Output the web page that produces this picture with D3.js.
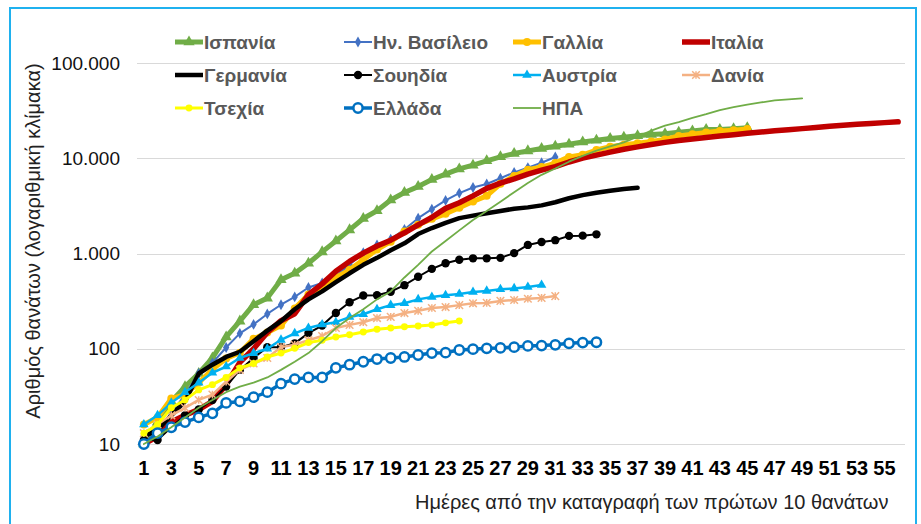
<!DOCTYPE html>
<meta charset="utf-8">
<style>

body {
  margin: 0;
  background: #fff;
}

svg {
  font-family: Arial, "Liberation Sans", sans-serif;
}

.grid line {
  stroke: #d9d9d9;
  shape-rendering: crispEdges;
}

.axis path {
  display: none;
}

.axis--x text {
  font-size: 20px;
  font-weight: bold;
  fill: #000;
}

.axis--y text {
  font-size: 19px;
  fill: #111;
}

.legend text {
  font-size: 19px;
  font-weight: bold;
  fill: #595959;
}

.title {
  font-size: 20px;
  fill: #222;
}

.series path.line {
  fill: none;
  stroke-linejoin: round;
  stroke-linecap: round;
}

</style>
<svg width="921" height="524"></svg>
<script src="https://cdn.jsdelivr.net/npm/d3@7"></script>
<script>

// Days since the first 10 deaths (categories on the x axis) and the labels shown.
var days = [1, 2, 3, 4, 5, 6, 7, 8, 9, 10, 11, 12, 13, 14, 15, 16, 17, 18, 19, 20,
  21, 22, 23, 24, 25, 26, 27, 28, 29, 30, 31, 32, 33, 34, 35, 36, 37, 38, 39, 40,
  41, 42, 43, 44, 45, 46, 47, 48, 49, 50, 51, 52, 53, 54, 55, 56];
var xTickLabels = [1, 3, 5, 7, 9, 11, 13, 15, 17, 19, 21, 23, 25, 27, 29, 31, 33, 35,
  37, 39, 41, 43, 45, 47, 49, 51, 53, 55];

var yTicks = [10, 100, 1000, 10000, 100000];
var yTickLabels = ["10", "100", "1.000", "10.000", "100.000"];

// Cumulative deaths (day 1 first).
var spain = [10, 17, 28, 40, 55, 80, 133, 195, 290, 340, 530, 620, 790, 1040, 1350,
  1770, 2330, 2810, 3650, 4370, 5040, 5980, 6800, 7720, 8460, 9390, 10350, 11200,
  11950, 12640, 13340, 14050, 14790, 15450, 16080, 16610, 17210, 17760, 18060,
  18710, 19320, 20000, 20040, 20450, 20850];
var uk = [10, 14, 21, 33, 55, 71, 103, 145, 180, 232, 290, 350, 440, 490, 580, 760,
  1020, 1230, 1410, 1790, 2350, 2920, 3610, 4310, 4930, 5370, 6160, 7100, 7980,
  8960, 10300];
var france = [16, 19, 30, 33, 44, 61, 79, 91, 127, 148, 175, 264, 372, 450, 562, 674,
  860, 1100, 1330, 1700, 2000, 2310, 2610, 3020, 3520, 4030, 5390, 6510, 7560, 8080,
  8910, 10330, 10870, 12210, 13200, 13830, 14390, 14970, 15730, 17170, 17920, 18680,
  19320, 19720, 20270];
var italy = [10, 12, 17, 20, 23, 28, 42, 72, 100, 148, 197, 233, 370, 480, 650, 827,
  1010, 1200, 1380, 1650, 2000, 2400, 2980, 3410, 4030, 4830, 5480, 6080, 6820, 7500,
  8170, 9130, 10020, 10780, 11590, 12430, 13160, 13920, 14680, 15360, 15890, 16520,
  17130, 17670, 18280, 18850, 19470, 19900, 20470, 21070, 21650, 22170, 22750,
  23230, 23660, 24110];
var germany = [12, 14, 20, 28, 55, 68, 82, 93, 120, 155, 195, 260, 330, 400, 500, 620,
  760, 900, 1080, 1280, 1600, 1850, 2100, 2350, 2500, 2650, 2800, 2950, 3050, 3200,
  3450, 3800, 4100, 4350, 4550, 4750, 4900];
var sweden = [11, 11, 15, 20, 23, 29, 40, 60, 80, 104, 104, 114, 146, 175, 237, 308,
  362, 365, 397, 465, 570, 690, 790, 860, 890, 890, 900, 1010, 1230, 1320, 1380,
  1530, 1540, 1590];
var austria = [16, 20, 27, 35, 44, 56, 65, 80, 90, 100, 124, 145, 165, 180, 190, 215,
  230, 260, 287, 300, 330, 350, 365, 375, 395, 405, 422, 430, 445, 466];
var denmark = [13, 16, 20, 24, 29, 33, 45, 60, 70, 80, 104, 110, 123, 136, 165, 178,
  190, 210, 216, 237, 250, 268, 274, 287, 300, 303, 318, 325, 335, 342, 357];
var czechia = [13, 16, 24, 29, 37, 42, 50, 63, 70, 82, 90, 101, 116, 123, 133, 140,
  150, 160, 165, 170, 173, 178, 187, 196];
var greece = [10, 13, 15, 17, 19, 21, 27, 28, 31, 35, 43, 48, 50, 50, 63, 68, 73, 78,
  80, 82, 86, 90, 91, 97, 99, 101, 102, 104, 107, 108, 110, 114, 116, 117];
var usa = [10, 12, 15, 19, 24, 29, 35, 40, 44, 50, 60, 73, 90, 120, 165, 210, 260, 330,
  400, 560, 760, 1050, 1350, 1750, 2250, 2800, 3500, 4400, 5500, 6700, 7800, 9200,
  10600, 12000, 13300, 14700, 16800, 19500, 22000, 24000, 26500, 29000, 32000,
  34500, 36500, 38500, 40500, 41500, 42500];

var names = ["Ισπανία", "Ην. Βασίλειο", "Γαλλία", "Ιταλία", "Γερμανία", "Σουηδία",
  "Αυστρία", "Δανία", "Τσεχία", "Ελλάδα", "ΗΠΑ"];
var values = [spain, uk, france, italy, germany, sweden, austria, denmark, czechia, greece, usa];

// Look of each series, same order as names.
var styles = [
  {color: "#70ad47", width: 5, marker: "triangle", size: 55},
  {color: "#4472c4", width: 2, marker: "diamond", size: 34},
  {color: "#ffc000", width: 5, marker: "circle", size: 50},
  {color: "#c00000", width: 5.5},
  {color: "#000000", width: 4.5},
  {color: "#000000", width: 2, marker: "circle", size: 55},
  {color: "#00b0f0", width: 2.5, marker: "triangle", size: 40},
  {color: "#f4b183", width: 2.5, marker: "star", size: 3.8},
  {color: "#ffff00", width: 3, marker: "circle", size: 38},
  {color: "#0070c0", width: 3.5, marker: "open", size: 68},
  {color: "#70ad47", width: 1.8}
];

var series = names.map(function(n, i) { return {name: n, values: values[i], style: styles[i]}; });

var svg = d3.select("svg"),
    margin = {top: 63, right: 16, bottom: 80, left: 137},
    width = 905 - margin.left,
    height = 444 - margin.top;

// Outer frame.
svg.append("rect")
    .attr("x", 10)
    .attr("y", 8)
    .attr("width", 906)
    .attr("height", 540)
    .attr("fill", "none")
    .attr("stroke", "#1fb1ef")
    .attr("stroke-width", 2);

var x = d3.scaleBand()
    .domain(days)
    .range([0, width]);

var y = d3.scaleLog()
    .domain([10, 100000])
    .range([height, 0]);

var cx = function(i) { return x(days[i]) + x.bandwidth() / 2; };

var g = svg.append("g")
    .attr("transform", "translate(" + margin.left + "," + margin.top + ")");

g.append("g")
    .attr("class", "grid")
  .selectAll("line").data(yTicks).enter().append("line")
    .attr("x1", 0)
    .attr("x2", width)
    .attr("y1", function(d) { return Math.round(y(d)) + 0.5; })
    .attr("y2", function(d) { return Math.round(y(d)) + 0.5; });

g.append("g")
    .attr("class", "axis axis--x")
    .attr("transform", "translate(0," + height + ")")
    .call(d3.axisBottom(x).tickValues(xTickLabels).tickSize(0).tickPadding(17));

g.append("g")
    .attr("class", "axis axis--y")
    .call(d3.axisLeft(y).tickValues(yTicks).tickSize(0).tickPadding(17)
      .tickFormat(function(d, i) { return yTickLabels[i]; }));

// Marker shapes.
function markerPath(st) {
  if (st.marker === "triangle") return d3.symbol().type(d3.symbolTriangle).size(st.size)();
  if (st.marker === "diamond") return d3.symbol().type(d3.symbolDiamond).size(st.size)();
  if (st.marker === "star") {
    var s = st.size;
    return "M" + -s + "," + -s + "L" + s + "," + s + "M" + -s + "," + s + "L" + s + "," + -s +
      "M0," + -s + "L0," + s;
  }
  return d3.symbol().type(d3.symbolCircle).size(st.size)();
}

function drawMarker(sel, st) {
  sel.attr("d", markerPath(st));
  if (st.marker === "star") {
    sel.attr("fill", "none").attr("stroke", st.color).attr("stroke-width", 1.5);
  } else if (st.marker === "open") {
    sel.attr("fill", "#fff").attr("stroke", st.color).attr("stroke-width", 2.5);
  } else {
    sel.attr("fill", st.color).attr("stroke", "none");
  }
}

var line = d3.line()
    .x(function(d, i) { return cx(i); })
    .y(function(d) { return y(d); });

var s = g.selectAll(".series").data(series).enter().append("g")
    .attr("class", "series");

s.append("path")
    .attr("class", "line")
    .attr("d", function(d) { return line(d.values); })
    .attr("stroke", function(d) { return d.style.color; })
    .attr("stroke-width", function(d) { return d.style.width; });

s.each(function(d) {
  if (!d.style.marker) return;
  d3.select(this).selectAll(".mark").data(d.values).enter().append("path")
      .attr("class", "mark")
      .attr("transform", function(v, i) { return "translate(" + cx(i) + "," + y(v) + ")"; })
      .call(drawMarker, d.style);
});

// Legend, 4 columns.
var legend = svg.append("g")
    .attr("class", "legend")
  .selectAll("g").data(series).enter().append("g")
    .attr("transform", function(d, i) {
      return "translate(" + (175 + 169 * (i % 4)) + "," + (42 + 33 * Math.floor(i / 4)) + ")";
    });

legend.append("line")
    .attr("x1", 0)
    .attr("x2", 28)
    .attr("stroke", function(d) { return d.style.color; })
    .attr("stroke-width", function(d) { return d.style.width; });

legend.filter(function(d) { return d.style.marker; }).append("path")
    .attr("transform", "translate(14,0)")
    .each(function(d) { d3.select(this).call(drawMarker, d.style); });

legend.append("text")
    .attr("x", 29)
    .attr("dy", "0.36em")
    .text(function(d) { return d.name; });

svg.append("text")
    .attr("class", "title")
    .attr("transform", "translate(33,241) rotate(-90)")
    .attr("text-anchor", "middle")
    .attr("dy", "0.35em")
    .text("Αριθμός θανάτων (λογαριθμική κλίμακα)");

svg.append("text")
    .attr("class", "title")
    .attr("x", 415)
    .attr("y", 509)
    .text("Ημέρες από την καταγραφή των πρώτων 10 θανάτων");

</script>
